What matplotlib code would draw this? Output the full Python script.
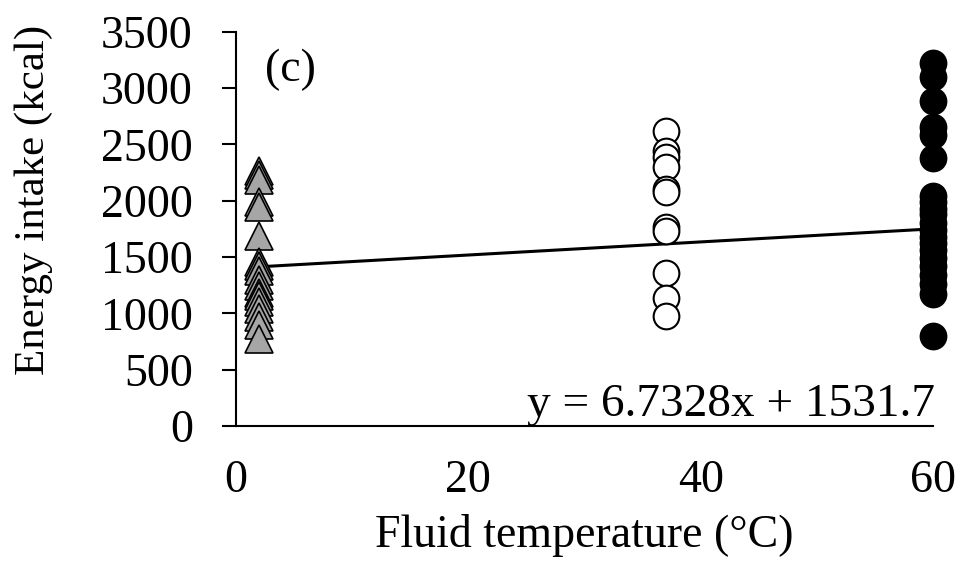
import numpy as np
import matplotlib.pyplot as plt

plt.rcParams['font.family'] = ['Liberation Serif', 'DejaVu Serif']

# fluid temperature groups (degC)
cold_x = 2
warm_x = 37
hot_x = 60

# energy intake (kcal)
cold_y = [2260, 2230, 2185, 1990, 1940, 1690, 1460, 1420, 1380, 1300, 1240,
          1180, 1150, 1100, 1040, 970, 900, 770]
warm_y = [2620, 2440, 2390, 2300, 2100, 2080, 1770, 1730, 1360, 1140, 980]
hot_y = [3220, 3100, 2880, 2655, 2585, 2380, 2040, 1990, 1930, 1880, 1800,
         1740, 1680, 1620, 1560, 1490, 1420, 1340, 1260, 1170, 800]

# trend line end points
trend_x = [2, 60]
trend_y = [1413, 1750]
eq_text = "y = 6.7328x + 1531.7"

fig = plt.figure(figsize=(9.59, 5.65), dpi=100)
ax = fig.add_axes([0.246, 0.246, 0.727, 0.698])

ax.plot(trend_x, trend_y, color='black', lw=2.2, zorder=2)
ax.plot([cold_x]*len(cold_y), cold_y, ls='none', marker='^', ms=19.5,
        mfc='#a6a6a6', mec='black', mew=1.2, zorder=3, clip_on=False)
ax.plot([warm_x]*len(warm_y), warm_y, ls='none', marker='o', ms=18.5,
        mfc='white', mec='black', mew=1.5, zorder=3, clip_on=False)
ax.plot([hot_x]*len(hot_y), hot_y, ls='none', marker='o', ms=18.5,
        mfc='black', mec='black', mew=1.5, zorder=3, clip_on=False)

ax.set_xlim(0, 60)
ax.set_ylim(0, 3500)
ax.set_xticks([0, 20, 40, 60])
ax.set_yticks(np.arange(0, 3501, 500))
ax.spines['top'].set_visible(False)
ax.spines['right'].set_visible(False)
ax.spines['left'].set_linewidth(1.5)
ax.spines['bottom'].set_linewidth(1.5)
ax.tick_params(axis='y', direction='out', length=10, width=1.5, pad=21,
               labelsize=33)
ax.tick_params(axis='x', length=0, pad=24, labelsize=33)

ax.set_xlabel("Fluid temperature (\u00b0C)", fontsize=33, labelpad=9)
ax.set_ylabel("Energy intake (kcal)", fontsize=31)
ax.yaxis.set_label_coords(-0.262, 0.573)

ax.text(0.042, 0.903, "(c)", transform=ax.transAxes, fontsize=33,
        ha='left', va='center')
ax.text(1.003, 0.025, eq_text, transform=ax.transAxes, fontsize=34,
        ha='right', va='baseline')

fig.savefig("out.png", dpi=100)
